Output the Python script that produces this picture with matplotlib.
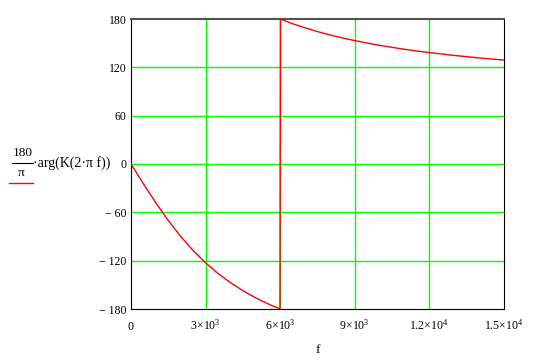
import matplotlib
matplotlib.use('Agg')
import matplotlib.pyplot as plt
from matplotlib.lines import Line2D

plt.rcParams['font.family'] = ['Liberation Serif', 'DejaVu Serif']
plt.rcParams['mathtext.fontset'] = 'custom'
plt.rcParams['mathtext.rm'] = 'Liberation Serif'
plt.rcParams['mathtext.it'] = 'Liberation Serif'

# frequency samples (Hz) and phase (degrees)
freq = [0, 500, 1000, 1500, 2000, 2500, 3000, 3500, 4000, 4500, 5000,
        5500, 5800, 5990, 6010, 6500, 7000, 7500, 8000, 8500, 9000, 9500,
        10000, 10500, 11000, 11500, 12000, 12500, 13000, 13500, 14000,
        14500, 15000]
phase = [0, -24.6, -48.3, -70.2, -90.0, -107.5, -122.7, -135.9, -147.3,
         -157.2, -165.9, -173.4, -177.5, -179.9, 179.9, 174.1, 169.0,
         164.4, 160.2, 156.5, 153.2, 150.1, 147.3, 144.8, 142.4, 140.3,
         138.3, 136.5, 134.8, 133.2, 131.7, 130.3, 129.0]

xticks = [0, 3000, 6000, 9000, 12000, 15000]
xtick_labels = [r'$0$', r'$3\!\times\!10^{3}$', r'$6\!\times\!10^{3}$',
                r'$9\!\times\!10^{3}$', r'$1.2\!\times\!10^{4}$',
                r'$1.5\!\times\!10^{4}$']
yticks = [-180, -120, -60, 0, 60, 120, 180]
ytick_labels = ['\u2212 180', '\u2212 120', '\u2212 60', '0', '60', '120', '180']

fig = plt.figure(figsize=(5.42, 3.60), dpi=100)
ax = fig.add_axes([131 / 542, 1 - 309 / 360, 373 / 542, 290 / 360])

green = '#00ff00'
for x in xticks[1:-1]:
    ax.axvline(x, color=green, lw=1, zorder=1)
for y in yticks[1:-1]:
    ax.axhline(y, color=green, lw=1, zorder=1)

ax.plot(freq, phase, color='#ff0000', lw=1, zorder=3)

ax.set_xlim(0, 15000)
ax.set_ylim(-180, 180)
ax.set_xticks(xticks)
ax.set_xticklabels(xtick_labels, va='baseline')
ax.set_yticks(yticks)
ax.set_yticklabels(ytick_labels)
ax.tick_params(length=0, labelsize=8.5)
ax.tick_params(axis='x', pad=15)
ax.tick_params(axis='y', pad=3)
for s in ['left', 'bottom', 'right']:
    ax.spines[s].set_color('black')
ax.spines['top'].set_color('#505050')
ax.spines['top'].set_linewidth(1.5)

ax.set_xlabel('f', fontsize=9.5, labelpad=8)

# y-axis label in the Mathcad style
def fx(px):
    return px / 542


def fy(py):
    return 1 - py / 360


fig.text(fx(22.5), fy(153), '180', ha='center', va='center', fontsize=9.5)
fig.add_artist(Line2D([fx(12), fx(33)], [fy(163.5), fy(163.5)],
                      color='black', lw=0.8))
fig.text(fx(21), fy(173), '\u03c0', ha='center', va='center', fontsize=9.5)
fig.text(fx(33), fy(163), '\u00b7arg(K(2\u00b7\u03c0 f))', ha='left',
         va='center', fontsize=10)
fig.add_artist(Line2D([fx(9), fx(33)], [fy(183), fy(183)],
                      color='#ff0000', lw=1))

fig.savefig('out.png', dpi=100)
